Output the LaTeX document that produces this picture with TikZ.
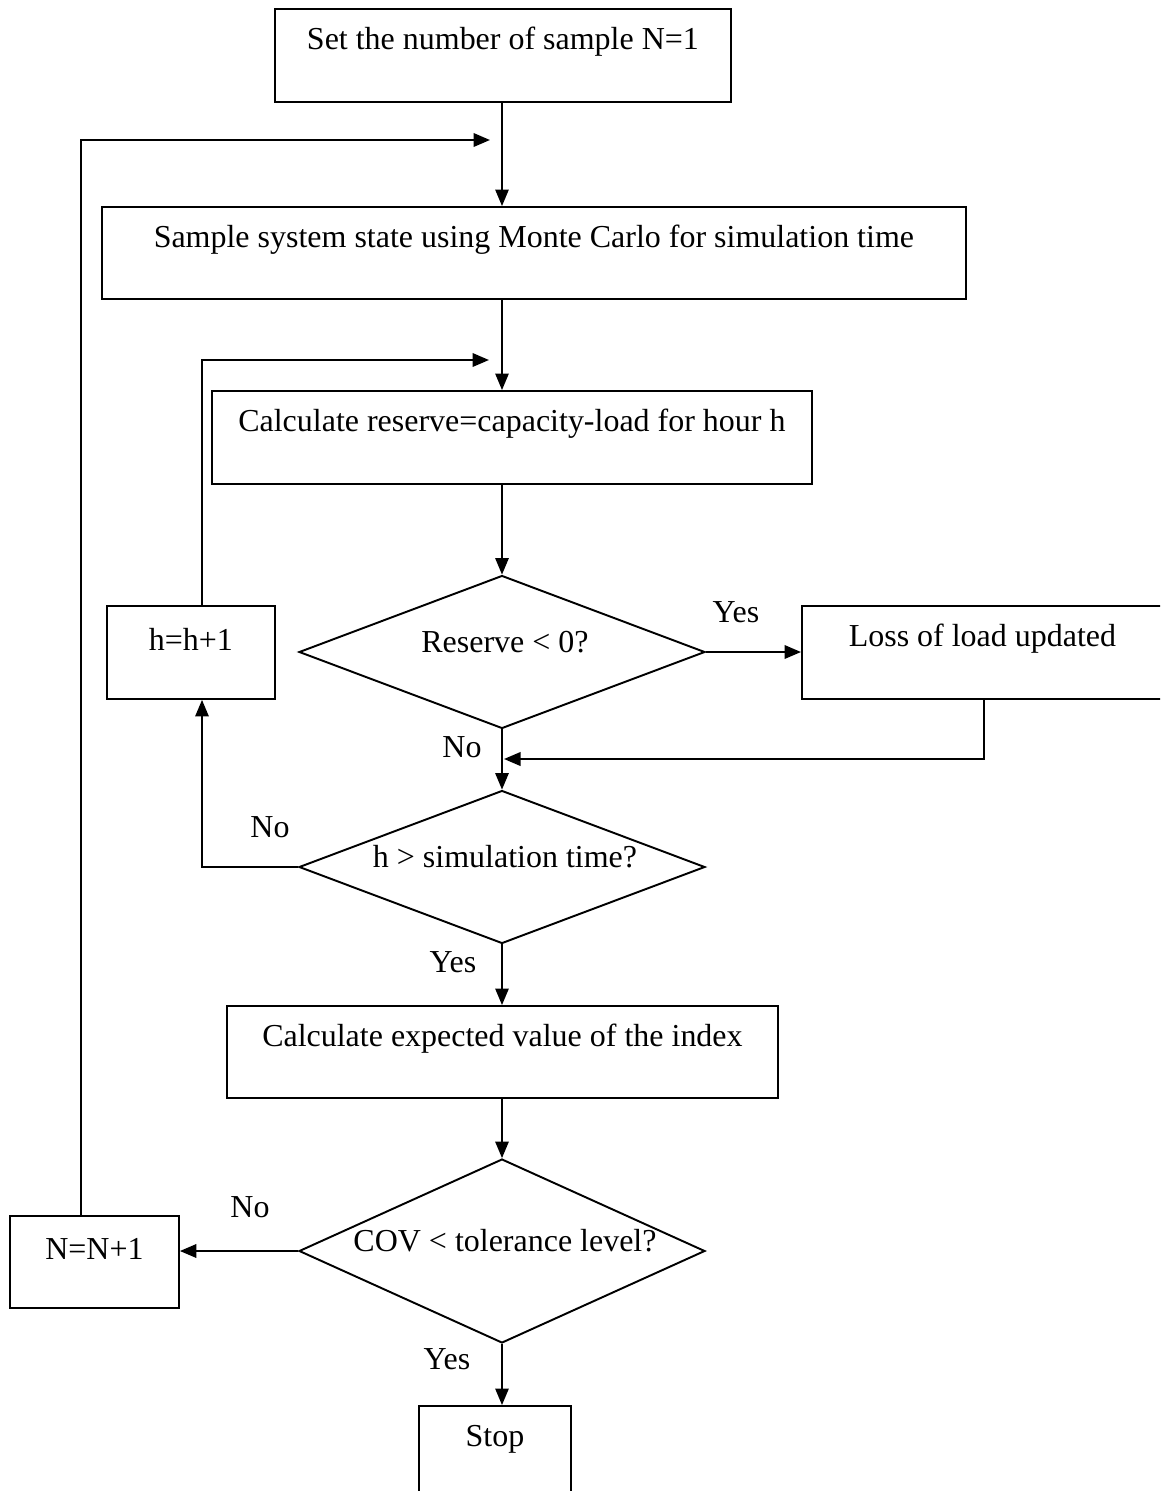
\documentclass[tikz,border=0pt]{standalone}
\usepackage{fontspec}
\setmainfont{Liberation Serif}
\usetikzlibrary{shapes.geometric,arrows.meta}
\begin{document}
\begin{tikzpicture}[x=0.02cm,y=-0.02cm,
  font=\fontsize{18.2}{21}\selectfont,
  box/.style={draw, line width=1.1pt, rectangle, inner sep=0pt, anchor=north west},
  boxtext/.style={label={[anchor=center,yshift=-0.68cm]north:#1}},
  decision/.style={draw, line width=1.1pt, diamond, inner sep=0pt, minimum width=8.12cm},
  dtext/.style={label={[xshift=0.06cm,yshift=0.2cm]center:#1}},
  tip/.style={-{Triangle[length=0.33cm,width=0.27cm]}},
  flow/.style={tip, line width=0.8pt},
  back/.style={tip, line width=1.2pt},
  tag/.style={inner sep=0pt}]

\clip (0,0) rectangle (1160,1491);

% process boxes (top-left corner, size)
\node[box, minimum width=9.12cm, minimum height=1.86cm, boxtext={Set the number of sample N=1}] (b1) at (274,8) {};
\node[box, minimum width=17.28cm, minimum height=1.84cm, boxtext={Sample system state using Monte Carlo for simulation time}] (b2) at (101,206) {};
\node[box, minimum width=12.0cm, minimum height=1.86cm, boxtext={Calculate reserve=capacity-load for hour h}] (b3) at (211,390) {};
\node[box, minimum width=7.22cm, minimum height=1.86cm, boxtext={Loss of load updated}] (lol) at (801,605) {};
\node[box, minimum width=3.36cm, minimum height=1.86cm, boxtext={h=h+1}] (hb) at (106,605) {};
\node[box, minimum width=11.02cm, minimum height=1.84cm, boxtext={Calculate expected value of the index}] (b4) at (226,1005) {};
\node[box, minimum width=3.38cm, minimum height=1.84cm, boxtext={N=N+1}] (nb) at (9,1215) {};
\node[box, minimum width=3.04cm, minimum height=2.4cm, boxtext={Stop}] (stop) at (418,1405) {};

% decisions
\node[decision, minimum height=3.06cm, dtext={Reserve < 0?}] (d1) at (502,652) {};
\node[decision, minimum height=3.06cm, dtext={h > simulation time?}] (d2) at (502,867) {};
\node[decision, minimum height=3.68cm, dtext={COV < tolerance level?}] (d3) at (502,1251) {};

% branch labels
\node[tag] (y1) at (736,612) {Yes};
\node[tag] (n1) at (462,747) {No};
\node[tag] (n2) at (270,827) {No};
\node[tag] (y2) at (453,962) {Yes};
\node[tag] (n3) at (250,1207) {No};
\node[tag] (y3) at (447,1359) {Yes};

% routing points
\coordinate (col) at (502,0);
\coordinate (lx) at (81,0);
\coordinate (hx) at (202,0);
\coordinate (rx) at (984,0);
\coordinate (j1) at (490,140);
\coordinate (j2) at (489,360);
\coordinate (j3) at (504,759);

% main flow
\draw[flow] (b1.south -| col) -- (b2.north -| col);
\draw[flow] (b2.south -| col) -- (b3.north -| col);
\draw[flow] (b3.south -| col) -- (d1.north);
\draw[back] (d1.east) -- (d1.east -| lol.west);
\draw[flow] (d1.south) -- (d2.north);
\draw[flow] (d2.south) -- (b4.north -| col);
\draw[flow] (b4.south -| col) -- (d3.north);
\draw[back] (d3.west) -- (d3.west -| nb.east);
\draw[flow] (d3.south) -- (stop.north -| col);

% loops
\draw[back] (lol.south -| rx) |- (j3);
\draw[flow] (d2.west) -| (hb.south -| hx);
\draw[back] (hb.north -| hx) |- (j2);
\draw[back] (nb.north -| lx) |- (j1);
\end{tikzpicture}
\end{document}
